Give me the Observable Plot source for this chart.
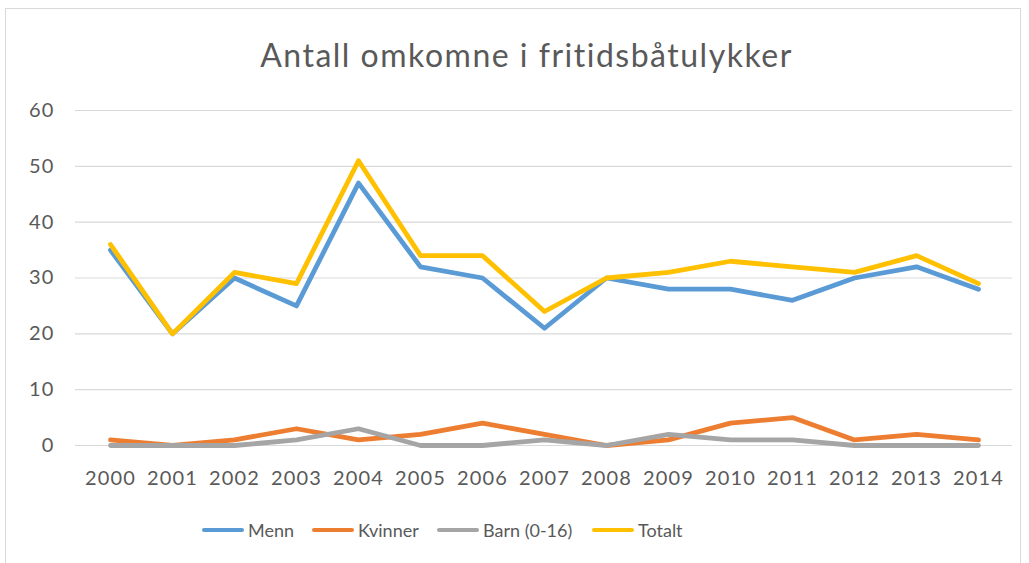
<!DOCTYPE html>
<html>
<head>
<meta charset="utf-8">
<script src="https://cdn.jsdelivr.net/npm/d3@7"></script>
<script src="https://cdn.jsdelivr.net/npm/@observablehq/plot@0.6"></script>
<style>
  html, body { margin: 0; padding: 0; background: #fff; }
  body { width: 1029px; height: 563px; position: relative; overflow: hidden; font-family: Lato, "Open Sans", sans-serif; }
  #frame { position: absolute; left: 5px; top: 8px; width: 1016px; height: 560px; border: 1px solid #d9d9d9; box-sizing: border-box; }
  #title { position: absolute; left: 12px; width: 1029px; top: 34px; text-align: center; font-size: 32px; letter-spacing: 1.5px; color: #595959; line-height: 42px; }
  #chart { position: absolute; left: 0; top: 0; }
  #legend { position: absolute; top: 517px; left: 0; width: 1029px; height: 26px; }
  .item { position: absolute; top: 0; display: flex; align-items: center; height: 26px; font-size: 18px; color: #595959; }
  .swatch { display: inline-block; width: 42px; height: 4.5px; border-radius: 3px; margin-right: 4px; }
  #chart text { letter-spacing: 1.2px; }
</style>
</head>
<body>
<div id="frame"></div>
<div id="title">Antall omkomne  i fritidsbåtulykker</div>
<div id="chart"></div>
<div id="legend"></div>
<script>
const years = [2000, 2001, 2002, 2003, 2004, 2005, 2006, 2007, 2008, 2009, 2010, 2011, 2012, 2013, 2014];
const menn    = [35, 20, 30, 25, 47, 32, 30, 21, 30, 28, 28, 26, 30, 32, 28];
const kvinner = [1, 0, 1, 3, 1, 2, 4, 2, 0, 1, 4, 5, 1, 2, 1];
const barn    = [0, 0, 0, 1, 3, 0, 0, 1, 0, 2, 1, 1, 0, 0, 0];
const totalt  = [36, 20, 31, 29, 51, 34, 34, 24, 30, 31, 33, 32, 31, 34, 29];
const seriesNames = ["Menn", "Kvinner", "Barn (0-16)", "Totalt"];
const seriesColors = ["#5B9BD5", "#ED7D31", "#A5A5A5", "#FFC000"];
const yTicks = [0, 10, 20, 30, 40, 50, 60];

const seriesValues = [menn, kvinner, barn, totalt];
const data = [];
seriesNames.forEach((name, si) => {
  years.forEach((yr, i) => data.push({ series: name, year: String(yr), value: seriesValues[si][i] }));
});

const chart = Plot.plot({
  width: 1029,
  height: 500,
  marginLeft: 75,
  marginRight: 17,
  marginTop: 110,
  marginBottom: 55,
  style: { fontFamily: "Lato, 'Open Sans', sans-serif", fontSize: "20px", color: "#595959", background: "transparent" },
  x: { type: "point", domain: years.map(String), padding: 0.5, label: null },
  y: { domain: [0, 60], label: null },
  color: { domain: seriesNames, range: seriesColors },
  marks: [
    Plot.ruleY(yTicks, { stroke: "#d9d9d9", strokeWidth: 1.2 }),
    Plot.axisY(yTicks, { tickSize: 0, tickPadding: 21, fontSize: 20, fill: "#595959", label: null }),
    Plot.axisX({ tickSize: 0, tickPadding: 25, fontSize: 20, fill: "#595959", label: null }),
    Plot.line(data, { x: "year", y: "value", z: "series", stroke: "series", strokeWidth: 4.8, strokeLinejoin: "round", strokeLinecap: "round" })
  ]
});
document.getElementById("chart").appendChild(chart);

const legendPos = [202, 312, 437, 592];
const legend = document.getElementById("legend");
seriesNames.forEach((name, i) => {
  const it = document.createElement("div");
  it.className = "item";
  it.style.left = legendPos[i] + "px";
  it.innerHTML = `<span class="swatch" style="background:${seriesColors[i]}"></span><span>${name}</span>`;
  legend.appendChild(it);
});
</script>
</body>
</html>
